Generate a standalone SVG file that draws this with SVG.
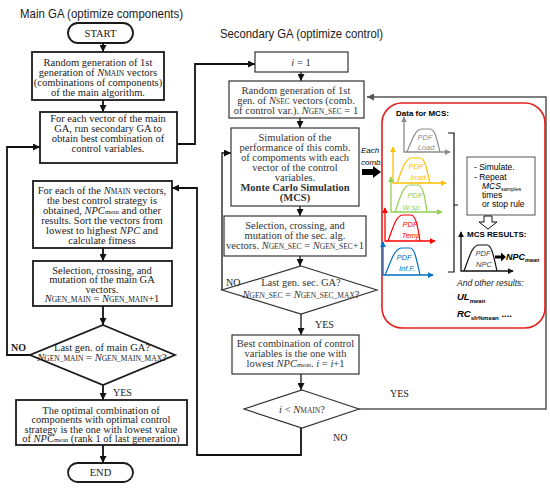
<svg xmlns="http://www.w3.org/2000/svg" width="550" height="491" viewBox="0 0 550 491">
<style>
.bx{fill:#fff;stroke:#1a1a1a;stroke-width:1.8}
.sb{fill:#fff;stroke:#333;stroke-width:1.2}
.t{font-family:"Liberation Serif",serif;font-size:10.5px;text-anchor:middle;fill:#1a1a1a}
.st{font-family:"Liberation Serif",serif;font-size:10.5px;text-anchor:middle;fill:#333}
.lbl{font-family:"Liberation Serif",serif;font-size:10px;fill:#1a1a1a}
.ttl{font-family:"Liberation Sans",sans-serif;font-size:13px;fill:#1a1a1a}
.i{font-style:italic}
.s{font-size:7.5px}
.m{font-size:6.5px}
.b{font-weight:bold}
.c{fill:none;stroke:#111;stroke-width:1.8}
.cs{fill:none;stroke:#111;stroke-width:1.3}
.sans{font-family:"Liberation Sans",sans-serif}
.pdf{font-family:"Liberation Sans",sans-serif;font-size:7.5px;font-style:italic;text-anchor:middle}
.ax{fill:none;stroke-width:1.3}
.cv{fill:none;stroke-width:1.2}
</style>
<defs>
<marker id="ah" viewBox="0 0 8 8" refX="8" refY="4" markerWidth="7" markerHeight="7" markerUnits="userSpaceOnUse" orient="auto"><path d="M0,0 L8,4 L0,8 z" fill="#111"/></marker>
<marker id="ag" viewBox="0 0 8 8" refX="8" refY="4" markerWidth="7" markerHeight="7" markerUnits="userSpaceOnUse" orient="auto"><path d="M0,0 L8,4 L0,8 z" fill="#555"/></marker>
<marker id="mk" viewBox="0 0 8 8" refX="7" refY="4" markerWidth="6" markerHeight="6" markerUnits="userSpaceOnUse" orient="auto-start-reverse"><path d="M0,0 L8,4 L0,8 z" fill="#111"/></marker>
<marker id="mgr" viewBox="0 0 8 8" refX="7" refY="4" markerWidth="6" markerHeight="6" markerUnits="userSpaceOnUse" orient="auto-start-reverse"><path d="M0,0 L8,4 L0,8 z" fill="#8c8c8c"/></marker>
<marker id="my" viewBox="0 0 8 8" refX="7" refY="4" markerWidth="6" markerHeight="6" markerUnits="userSpaceOnUse" orient="auto-start-reverse"><path d="M0,0 L8,4 L0,8 z" fill="#ffc000"/></marker>
<marker id="mg" viewBox="0 0 8 8" refX="7" refY="4" markerWidth="6" markerHeight="6" markerUnits="userSpaceOnUse" orient="auto-start-reverse"><path d="M0,0 L8,4 L0,8 z" fill="#92d050"/></marker>
<marker id="mr" viewBox="0 0 8 8" refX="7" refY="4" markerWidth="6" markerHeight="6" markerUnits="userSpaceOnUse" orient="auto-start-reverse"><path d="M0,0 L8,4 L0,8 z" fill="#ff0000"/></marker>
<marker id="mb" viewBox="0 0 8 8" refX="7" refY="4" markerWidth="6" markerHeight="6" markerUnits="userSpaceOnUse" orient="auto-start-reverse"><path d="M0,0 L8,4 L0,8 z" fill="#0070c0"/></marker>
</defs>
<rect width="550" height="491" fill="#fff"/>

<text class="ttl" x="20" y="18" textLength="163" lengthAdjust="spacingAndGlyphs">Main GA (optimize components)</text>
<text class="ttl" x="220" y="38" textLength="163" lengthAdjust="spacingAndGlyphs">Secondary GA (optimize control)</text>

<g id="connectors">
<path class="c" d="M103,43 V52" marker-end="url(#ah)"/>
<path class="c" d="M103,100 V112" marker-end="url(#ah)"/>
<path class="c" d="M177,144 H195 V64 H255" marker-end="url(#ah)"/>
<path class="c" d="M103,248 V261" marker-end="url(#ah)"/>
<path class="c" d="M103,306 V325" marker-end="url(#ah)"/>
<path class="c" d="M30,355 H7 V147 H40" marker-end="url(#ah)"/>
<path class="c" d="M103,385 V400" marker-end="url(#ah)"/>
<path class="c" d="M103,445 V463" marker-end="url(#ah)"/>
<path class="cs" d="M301,72 V81" marker-end="url(#ah)"/>
<path class="cs" d="M300,118 V128" marker-end="url(#ah)"/>
<path class="cs" d="M300,206 V216" marker-end="url(#ah)"/>
<path class="cs" d="M300,256 V266" marker-end="url(#ah)"/>
<path class="cs" d="M222,290 V153 H231" marker-end="url(#ah)"/>
<path class="cs" d="M301,314 V335" marker-end="url(#ah)"/>
<path class="cs" d="M301,374 V390" marker-end="url(#ah)"/>
<path fill="none" stroke="#555" stroke-width="1.5" d="M359,409 H546 V97 H367" marker-end="url(#ag)"/>
<path class="c" d="M301,428 V455 H197 V188 H172" marker-end="url(#ah)"/>
<polygon points="362,169 373,169 373,166 381,172 373,178 373,175 362,175" fill="#000"/>
</g>

<g id="start">
<rect x="68" y="23" width="65" height="20" rx="10" class="bx"/>
<text class="t" x="100.5" y="37">START</text>
</g>
<g id="main-init">
<rect x="32" y="52" width="132" height="48" class="bx"/>
<text class="t" x="98" y="65.5">Random generation of 1st</text>
<text class="t" x="98" y="75.5">generation of <tspan class="i">N</tspan><tspan class="s">MAIN</tspan> vectors</text>
<text class="t" x="98" y="85.5">(combinations of components)</text>
<text class="t" x="98" y="95.5">of the main algorithm.</text>
</g>
<g id="main-each">
<rect x="40" y="112" width="137" height="51" class="bx"/>
<text class="t" x="108" y="121.5">For each vector of the main</text>
<text class="t" x="108" y="131.5">GA, run secondary GA to</text>
<text class="t" x="108" y="141.5">obtain best combination of</text>
<text class="t" x="108" y="151.5">control variables.</text>
</g>
<g id="main-sort">
<rect x="33" y="181" width="139" height="67" class="bx"/>
<text class="t" x="102" y="193.5">For each of the <tspan class="i">N</tspan><tspan class="s">MAIN</tspan> vectors,</text>
<text class="t" x="102" y="203.5">the best control strategy is</text>
<text class="t" x="102" y="213.5">obtained, <tspan class="i">NPC</tspan><tspan class="m">mean</tspan> and other</text>
<text class="t" x="102" y="223.5">results. Sort the vectors from</text>
<text class="t" x="102" y="233.5">lowest to highest <tspan class="i">NPC</tspan> and</text>
<text class="t" x="102" y="243.5">calculate fitness</text>
</g>
<g id="main-select">
<rect x="33" y="261" width="139" height="45" class="bx"/>
<text class="t" x="102" y="273.5">Selection, crossing, and</text>
<text class="t" x="102" y="283">mutation of the main GA</text>
<text class="t" x="102" y="292.5">vectors.</text>
<text class="t" x="102" y="302"><tspan class="i">N</tspan><tspan class="s">GEN_MAIN</tspan> = <tspan class="i">N</tspan><tspan class="s">GEN_MAIN</tspan>+1</text>
</g>
<g id="main-last">
<polygon points="103,325 175,355 103,385 30,355" class="bx"/>
<text class="t" x="102" y="350.5">Last gen. of main GA?</text>
<text class="t" x="102" y="360.5"><tspan class="i">N</tspan><tspan class="s">GEN_MAIN</tspan> = <tspan class="i">N</tspan><tspan class="s">GEN_MAIN_MAX</tspan>?</text>
<text class="lbl b" x="11" y="351">NO</text>
<text class="lbl" x="113" y="396">YES</text>
</g>
<g id="main-optimal">
<rect x="16" y="400" width="171" height="45" class="bx"/>
<text class="t" x="101" y="413.5">The optimal combination of</text>
<text class="t" x="101" y="423">components with optimal control</text>
<text class="t" x="101" y="432.5">strategy is the one with lowest value</text>
<text class="t" x="101" y="442">of <tspan class="i">NPC</tspan><tspan class="m">mean</tspan>  (rank 1 of last generation)</text>
</g>
<g id="end">
<rect x="68" y="463" width="65" height="19" rx="9.5" class="bx"/>
<text class="t" x="100.5" y="476" font-size="9">END</text>
</g>

<g id="sec-i1">
<rect x="255" y="52" width="93" height="20" class="sb"/>
<text class="st" x="301" y="65.5"><tspan class="i">i</tspan> = 1</text>
</g>
<g id="sec-init">
<rect x="229" y="81" width="135" height="37" class="sb"/>
<text class="st" x="296" y="93.5">Random generation of 1st</text>
<text class="st" x="296" y="103.5">gen. of <tspan class="i">N</tspan><tspan class="s">SEC</tspan> vectors (comb.</text>
<text class="st" x="296" y="113.5">of control var.). <tspan class="i">N</tspan><tspan class="s">GEN_SEC</tspan> = 1</text>
</g>
<g id="sec-sim">
<rect x="231" y="128" width="128" height="78" class="sb"/>
<text class="st" x="295" y="140.5">Simulation of the</text>
<text class="st" x="295" y="150.5">performance of this comb.</text>
<text class="st" x="295" y="160.5">of compoments with each</text>
<text class="st" x="295" y="170.5">vector of the control</text>
<text class="st" x="295" y="181">variables.</text>
<text class="st b" x="295" y="191" fill="#111">Monte Carlo Simulation</text>
<text class="st b" x="295" y="201" fill="#111">(MCS)</text>
</g>
<g id="sec-select">
<rect x="224" y="216" width="142" height="40" class="sb"/>
<text class="st" x="295" y="228.5">Selection, crossing, and</text>
<text class="st" x="295" y="238.5">mutation of the sec. alg.</text>
<text class="st" x="295" y="248.5">vectors. <tspan class="i">N</tspan><tspan class="s">GEN_SEC</tspan> = <tspan class="i">N</tspan><tspan class="s">GEN_SEC</tspan>+1</text>
</g>
<g id="sec-last">
<polygon points="301,266 377,290 301,314 222,290" class="sb"/>
<text class="st" x="301" y="285.5">Last gen. sec. GA?</text>
<text class="st" x="301" y="297.5"><tspan class="i">N</tspan><tspan class="s">GEN_SEC</tspan> = <tspan class="i">N</tspan><tspan class="s">GEN_SEC_MAX</tspan>?</text>
<text class="lbl" x="226" y="286">NO</text>
<text class="lbl" x="315" y="328">YES</text>
</g>
<g id="sec-best">
<rect x="232" y="335" width="127" height="39" class="sb"/>
<text class="st" x="295.5" y="346.5">Best combination of control</text>
<text class="st" x="295.5" y="356.5">variables is the one with</text>
<text class="st" x="295.5" y="366.5">lowest <tspan class="i">NPC</tspan><tspan class="m">mean</tspan>. <tspan class="i">i</tspan> = <tspan class="i">i</tspan>+1</text>
</g>
<g id="sec-ilt">
<polygon points="302,390 359,409 302,428 244,409" class="sb"/>
<text class="st" x="302" y="413"><tspan class="i">i</tspan> &lt; <tspan class="i">N</tspan><tspan class="s">MAIN</tspan>?</text>
<text class="lbl" x="390" y="397">YES</text>
<text class="lbl" x="333" y="441">NO</text>
</g>

<g id="each-comb">
<text class="sans i" x="361" y="153" font-size="8">Each</text>
<text class="sans i" x="361" y="165" font-size="8">comb.</text>
</g>

<g id="mcs">
<rect x="382" y="103" width="163" height="225" rx="20" fill="none" stroke="#e0201c" stroke-width="1.6"/>
<text class="sans b" x="396" y="116" font-size="8">Data for MCS:</text>
<path class="ax" stroke="#8c8c8c" d="M404,117 V152 H450" marker-start="url(#mgr)" marker-end="url(#mgr)"/>
<path class="cv" stroke="#8c8c8c" d="M407,152 C412,140 415,129 422,129 L430,129 C435,129 437,140 440,152"/>
<text class="pdf" fill="#8c8c8c" x="425" y="140">PDF</text>
<text class="pdf" fill="#8c8c8c" x="426" y="150">Load</text>
<path class="ax" stroke="#ffc000" d="M393,147 V183 H446" marker-start="url(#my)" marker-end="url(#my)"/>
<path class="cv" stroke="#ffc000" d="M397,183 C402,170 405,158 412,158 L420,158 C425,158 427,170 430,183"/>
<text class="pdf" fill="#ffc000" x="416" y="169">PDF</text>
<text class="pdf" fill="#ffc000" x="419" y="180">Irrad.</text>
<path class="ax" stroke="#92d050" d="M391,177 V212 H442" marker-start="url(#mg)" marker-end="url(#mg)"/>
<path class="cv" stroke="#92d050" d="M395,212 C400,198 403,185 410,185 L418,185 C423,185 425,198 427,212"/>
<text class="pdf" fill="#92d050" x="415" y="198">PDF</text>
<text class="pdf" fill="#92d050" x="412" y="210">W.sp.</text>
<path class="ax" stroke="#ff0000" d="M385,208 V241 H435" marker-start="url(#mr)" marker-end="url(#mr)"/>
<path class="cv" stroke="#ff0000" d="M388,241 C393,228 396,215 403,215 L411,215 C416,215 418,228 420,241"/>
<text class="pdf" fill="#ff0000" x="410" y="227">PDF</text>
<text class="pdf" fill="#ff0000" x="411" y="238">Temp</text>
<path class="ax" stroke="#0070c0" d="M383,242 V275 H433" marker-start="url(#mb)" marker-end="url(#mb)"/>
<path class="cv" stroke="#0070c0" d="M385,275 C391,262 394,248 402,248 L410,248 C415,248 417,262 420,275"/>
<text class="pdf" fill="#0070c0" x="404" y="260">PDF</text>
<text class="pdf" fill="#0070c0" x="407" y="271">Inf.F.</text>
<path fill="none" stroke="#111" stroke-width="1.2" d="M448,133 H454 V272 H448 M454,205 H458"/>
<rect x="467" y="157" width="68" height="58" fill="#fff" stroke="#555" stroke-width="1"/>
<text class="sans" font-size="8.5" x="474" y="170">- Simulate.</text>
<text class="sans" font-size="8.5" x="474" y="180">- Repeat</text>
<text class="sans" font-size="8.5" x="482" y="189"><tspan class="i">MCS</tspan><tspan font-size="5.5" dy="1.5">samples</tspan></text>
<text class="sans" font-size="8.5" x="482" y="198">times</text>
<text class="sans" font-size="8.5" x="482" y="207">or stop rule</text>
<polygon points="484,216 492,216 492,222 497,222 488,229 479,222 484,222" fill="#fff" stroke="#111" stroke-width="1"/>
<text class="sans b" font-size="8" x="467" y="237">MCS RESULTS:</text>
<path class="ax" stroke="#111" d="M461,232 V271 H513" marker-start="url(#mk)" marker-end="url(#mk)"/>
<path class="cv" stroke="#111" d="M464,271 C469,258 472,245 479,245 L487,245 C492,245 494,258 497,271"/>
<text class="pdf" fill="#444" x="483" y="256">PDF</text>
<text class="pdf" fill="#444" x="484" y="267">NPC</text>
<polygon points="495,255.5 501,255.5 501,252.5 506,257 501,261.5 501,258.5 495,258.5" fill="#000"/>
<text class="sans b i" font-size="9" x="506" y="260">NPC<tspan font-size="5.5" dy="2">mean</tspan></text>
<text class="sans i" font-size="8.5" x="457" y="286" fill="#222">And other results:</text>
<text class="sans b i" font-size="9.5" x="457" y="300">UL<tspan font-size="6" dy="2.5" font-style="normal">mean</tspan></text>
<text class="sans b i" font-size="9.5" x="457" y="317">RC<tspan font-size="6" dy="2.5" font-style="normal">sh%mean</tspan><tspan dy="-2.5" font-style="normal"> ....</tspan></text>
</g>
</svg>
